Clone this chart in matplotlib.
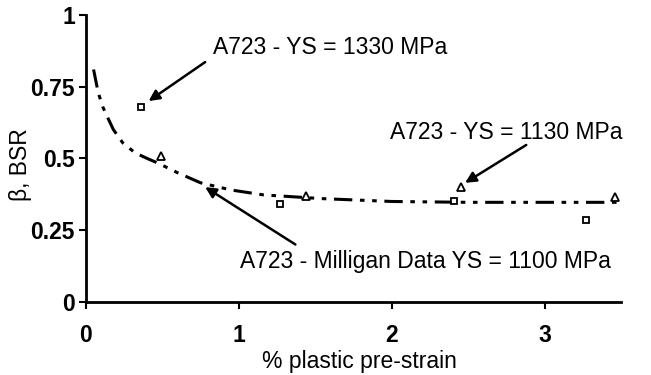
import matplotlib
matplotlib.use("Agg")
import matplotlib.pyplot as plt

# Data
sq_x = [0.36, 1.27, 2.41, 3.27]          # A723 - YS = 1330 MPa
sq_y = [0.68, 0.34, 0.35, 0.285]
tri_x = [0.49, 1.44, 2.45, 3.46]         # A723 - YS = 1130 MPa
tri_y = [0.51, 0.37, 0.40, 0.365]
curve_x = [0.05, 0.08, 0.11, 0.14, 0.18, 0.24, 0.32, 0.40, 0.47, 0.60, 0.75, 0.95, 1.16, 1.54, 2.00, 2.50, 3.00, 3.55]
curve_y = [0.81, 0.73, 0.68, 0.645, 0.60, 0.555, 0.52, 0.50, 0.484, 0.45, 0.415, 0.39, 0.373, 0.36, 0.35, 0.347, 0.347, 0.347]
xticks = [0, 1, 2, 3]
yticks = [0, 0.25, 0.5, 0.75, 1]
yticklabels = ["0", "0.25", "0.5", "0.75", "1"]

plt.rcParams['font.family'] = ['Liberation Sans', 'DejaVu Sans']
fig = plt.figure(figsize=(6.51, 3.75), dpi=100)
ax = fig.add_axes([0.132, 0.195, 0.822, 0.765])

ax.plot(curve_x, curve_y, color='black', lw=2.2, dashes=(6, 2.5, 1.5, 2.5, 1.5, 2.5))
ax.plot(sq_x, sq_y, 's', mfc='white', mec='black', ms=5, mew=1.3, ls='none')
ax.plot(tri_x, tri_y, '^', mfc='white', mec='black', ms=5.5, mew=1.3, ls='none')

ax.set_xlim(0, 3.5)
ax.set_ylim(0, 1)
ax.set_xticks(xticks)
ax.set_xticklabels([str(t) for t in xticks])
ax.set_yticks(yticks)
ax.set_yticklabels(yticklabels)
for s in ['top', 'right']:
    ax.spines[s].set_visible(False)
for s in ['left', 'bottom']:
    ax.spines[s].set_linewidth(2)
ax.tick_params(axis='both', direction='out', width=1.5, length=5, labelsize=16.5, pad=3)
ax.tick_params(axis='x', pad=11)
for lab in ax.get_xticklabels() + ax.get_yticklabels():
    lab.set_fontweight('bold')

ax.set_xlabel('% plastic pre-strain', fontsize=16.5, va='center')
ax.xaxis.set_label_coords(0.512, -0.207)
ax.set_ylabel('β, BSR', fontsize=16.5, va='center')
ax.yaxis.set_label_coords(-0.123, 0.48)

fs = 16.5
def arrow(x0, y0, x1, y1):
    ax.annotate('', xy=(x1, y1), xytext=(x0, y0),
                arrowprops=dict(arrowstyle='-|>', color='black', lw=1.8,
                                mutation_scale=16, shrinkA=0, shrinkB=0))

ax.text(0.83, 0.885, 'A723 - YS = 1330 MPa', fontsize=fs, va='center', ha='left')
arrow(0.78, 0.836, 0.41, 0.70)
ax.text(1.99, 0.59, 'A723 - YS = 1130 MPa', fontsize=fs, va='center', ha='left')
arrow(2.88, 0.547, 2.48, 0.415)
ax.text(1.01, 0.14, 'A723 - Milligan Data YS = 1100 MPa', fontsize=fs, va='center', ha='left')
arrow(1.37, 0.20, 0.78, 0.40)

fig.savefig('out.png', dpi=100)
